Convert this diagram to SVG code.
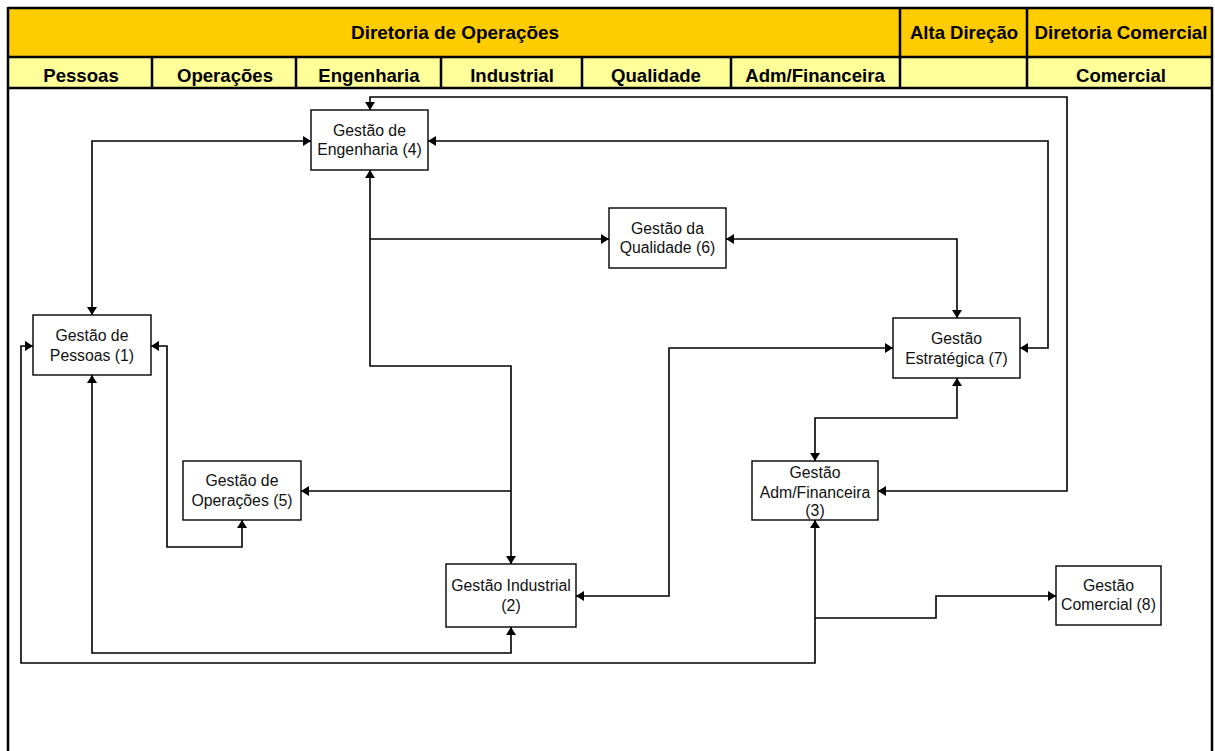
<svg xmlns="http://www.w3.org/2000/svg" width="1215" height="751" viewBox="0 0 1215 751">
<style>
.hdr{font-family:"Liberation Sans",Arial,sans-serif;font-weight:bold;font-size:18.6px;fill:#000;text-anchor:middle}
.box{fill:#fff;stroke:#000;stroke-width:1.4}
.lbl{font-family:"Liberation Sans",Arial,sans-serif;font-size:15.8px;fill:#111;text-anchor:middle}
.con{fill:none;stroke:#000;stroke-width:1.6}
.grid{stroke:#000;stroke-width:2.5;fill:none}
</style>
<defs>
<marker id="ah" markerUnits="userSpaceOnUse" markerWidth="10" markerHeight="10" refX="8" refY="5" orient="auto-start-reverse">
<path d="M0,0 L8,5 L0,10 z" fill="#000"/>
</marker>
</defs>
<rect x="0" y="0" width="1215" height="751" fill="#fff"/>
<g id="header">
<rect x="8" y="8" width="1204" height="49" fill="#FFCC00"/>
<rect x="8" y="57" width="1204" height="31" fill="#FFFF99"/>
<path class="grid" d="M8,8 H1212 M8,57 H1212 M8,88 H1212 M900,8 V88 M1027,8 V88 M152,57 V88 M296,57 V88 M441,57 V88 M582,57 V88 M731,57 V88 M8,7 V751 M1212,7 V751"/>
<text class="hdr" x="455" y="39" textLength="208" lengthAdjust="spacingAndGlyphs">Diretoria de Operações</text>
<text class="hdr" x="964" y="39" textLength="108" lengthAdjust="spacingAndGlyphs">Alta Direção</text>
<text class="hdr" x="1121" y="39" textLength="173" lengthAdjust="spacingAndGlyphs">Diretoria Comercial</text>
<text class="hdr" x="81" y="82">Pessoas</text>
<text class="hdr" x="225" y="82">Operações</text>
<text class="hdr" x="369" y="82">Engenharia</text>
<text class="hdr" x="512" y="82">Industrial</text>
<text class="hdr" x="656" y="82">Qualidade</text>
<text class="hdr" x="815" y="82">Adm/Financeira</text>
<text class="hdr" x="1121" y="82">Comercial</text>
</g>
<g id="connectors">
<path class="con" marker-start="url(#ah)" marker-end="url(#ah)" d="M370,110 V97 H1067 V491 H878"/>
<path class="con" marker-start="url(#ah)" marker-end="url(#ah)" d="M311,141 H92 V315"/>
<path class="con" marker-start="url(#ah)" marker-end="url(#ah)" d="M428,141 H1048 V348 H1020"/>
<path class="con" marker-start="url(#ah)" marker-end="url(#ah)" d="M370,170 V366 H511 V564"/>
<path class="con" marker-end="url(#ah)" d="M370,239 H609"/>
<path class="con" marker-end="url(#ah)" d="M511,491 H301"/>
<path class="con" marker-start="url(#ah)" marker-end="url(#ah)" d="M726,239 H957 V318"/>
<path class="con" marker-start="url(#ah)" marker-end="url(#ah)" d="M893,348 H669 V596 H576"/>
<path class="con" marker-start="url(#ah)" marker-end="url(#ah)" d="M957,378 V418 H815 V461"/>
<path class="con" marker-start="url(#ah)" marker-end="url(#ah)" d="M151,346 H167 V547 H242 V520"/>
<path class="con" marker-start="url(#ah)" marker-end="url(#ah)" d="M92,375 V653 H511 V627"/>
<path class="con" marker-start="url(#ah)" marker-end="url(#ah)" d="M33,346 H21 V663 H815 V520"/>
<path class="con" marker-end="url(#ah)" d="M815,618 H936 V596 H1056"/>
</g>
<g id="n4">
<rect class="box" x="311" y="110" width="117" height="60"/>
<text class="lbl" x="369.5" y="135.5">Gestão de</text>
<text class="lbl" x="369.5" y="155">Engenharia (4)</text>
</g>
<g id="n6">
<rect class="box" x="609" y="208" width="117" height="60"/>
<text class="lbl" x="667.5" y="233.5">Gestão da</text>
<text class="lbl" x="667.5" y="253">Qualidade (6)</text>
</g>
<g id="n1">
<rect class="box" x="33" y="315" width="118" height="60"/>
<text class="lbl" x="92" y="340.5">Gestão de</text>
<text class="lbl" x="92" y="360.5">Pessoas (1)</text>
</g>
<g id="n7">
<rect class="box" x="893" y="318" width="127" height="60"/>
<text class="lbl" x="956.5" y="344">Gestão</text>
<text class="lbl" x="956.5" y="364">Estratégica (7)</text>
</g>
<g id="n5">
<rect class="box" x="183" y="461" width="118" height="59"/>
<text class="lbl" x="242" y="486">Gestão de</text>
<text class="lbl" x="242" y="506">Operações (5)</text>
</g>
<g id="n3">
<rect class="box" x="752" y="461" width="126" height="59"/>
<text class="lbl" x="815" y="478">Gestão</text>
<text class="lbl" x="815" y="497.5">Adm/Financeira</text>
<text class="lbl" x="815" y="515.5">(3)</text>
</g>
<g id="n2">
<rect class="box" x="446" y="564" width="130" height="63"/>
<text class="lbl" x="511" y="590.5">Gestão Industrial</text>
<text class="lbl" x="511" y="610.5">(2)</text>
</g>
<g id="n8">
<rect class="box" x="1056" y="566" width="105" height="59"/>
<text class="lbl" x="1108.5" y="590.5">Gestão</text>
<text class="lbl" x="1108.5" y="610">Comercial (8)</text>
</g>
</svg>
